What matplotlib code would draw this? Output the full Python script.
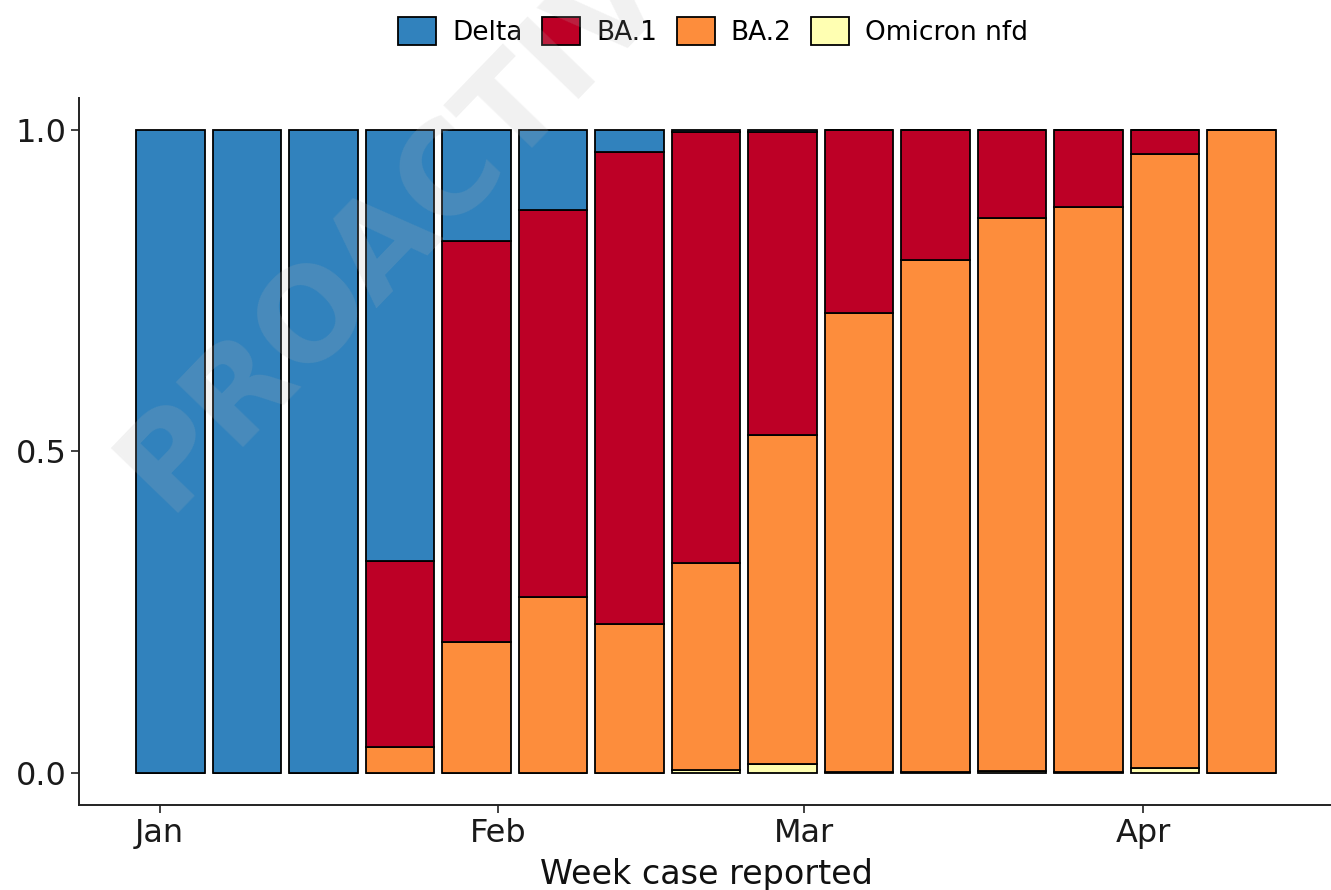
import matplotlib.pyplot as plt
import matplotlib.dates as mdates
import pandas as pd

weeks = pd.date_range('2022-01-02', periods=15, freq='7D')
variants = ['Delta', 'BA.1', 'BA.2', 'Omicron nfd']
delta = [1, 1, 1, 0.671, 0.173, 0.125, 0.034, 0.003, 0.003, 0, 0, 0, 0, 0, 0]
ba1 = [0, 0, 0, 0.289, 0.623, 0.602, 0.735, 0.670, 0.472, 0.285, 0.202, 0.137, 0.120, 0.037, 0]
ba2 = [0, 0, 0, 0.040, 0.204, 0.273, 0.231, 0.322, 0.511, 0.713, 0.796, 0.860, 0.878, 0.955, 1.0]
nfd = [0, 0, 0, 0, 0, 0, 0, 0.005, 0.014, 0.002, 0.002, 0.003, 0.002, 0.008, 0]
colours = {'Delta': '#3182bd', 'BA.1': '#bd0026', 'BA.2': '#fd8d3c', 'Omicron nfd': '#ffffb2'}

df = pd.DataFrame({'week': weeks, 'Delta': delta, 'BA.1': ba1, 'BA.2': ba2, 'Omicron nfd': nfd})

fig = plt.figure(figsize=(13.31, 8.90), dpi=100)
ax = fig.add_axes([0.0594, 0.0955, 0.9421, 0.7945])

# stack from the bottom: Omicron nfd, BA.2, BA.1, Delta on top
width = 6.3
bottom = [0.0] * len(df)
handles = {}
for v in ['Omicron nfd', 'BA.2', 'BA.1', 'Delta']:
    bars = ax.bar(df['week'], df[v], width=width, bottom=bottom, color=colours[v],
                  edgecolor='black', linewidth=1.3, label=v, zorder=2)
    handles[v] = bars
    bottom = [b + h for b, h in zip(bottom, df[v])]

x0 = mdates.date2num(weeks[0]) - width / 2
x1 = mdates.date2num(weeks[-1]) + width / 2
pad = (x1 - x0) * 0.05
ax.set_xlim(x0 - pad, x1 + pad)
ax.set_ylim(-0.05, 1.05)

ax.xaxis.set_major_locator(mdates.MonthLocator())
ax.xaxis.set_major_formatter(mdates.DateFormatter('%b'))
ax.set_yticks([0, 0.5, 1.0])
ax.set_yticklabels(['0.0', '0.5', '1.0'])
ax.tick_params(axis='both', labelsize=23, length=6, width=1.3, colors='#333333',
               labelcolor='#1a1a1a', pad=3)

for s in ['top', 'right']:
    ax.spines[s].set_visible(False)
for s in ['left', 'bottom']:
    ax.spines[s].set_linewidth(1.4)
    ax.spines[s].set_color('#222222')

ax.set_xlabel('Week case reported', fontsize=24, labelpad=7, color='#111111')

fig.legend([handles[v] for v in variants], variants, loc='center',
           bbox_to_anchor=(0.536, 0.965), ncol=4, frameon=False, fontsize=19,
           handlelength=1.44, handleheight=1.3, handletextpad=0.6, columnspacing=0.75)

# watermark
fig.text(0.318, 0.778, 'PROACTIVE', fontsize=92, fontweight='bold', color='#b4b4b4',
         alpha=0.18, rotation=46, rotation_mode='anchor', ha='center', va='center',
         zorder=10)

fig.savefig('out.png', dpi=100)
